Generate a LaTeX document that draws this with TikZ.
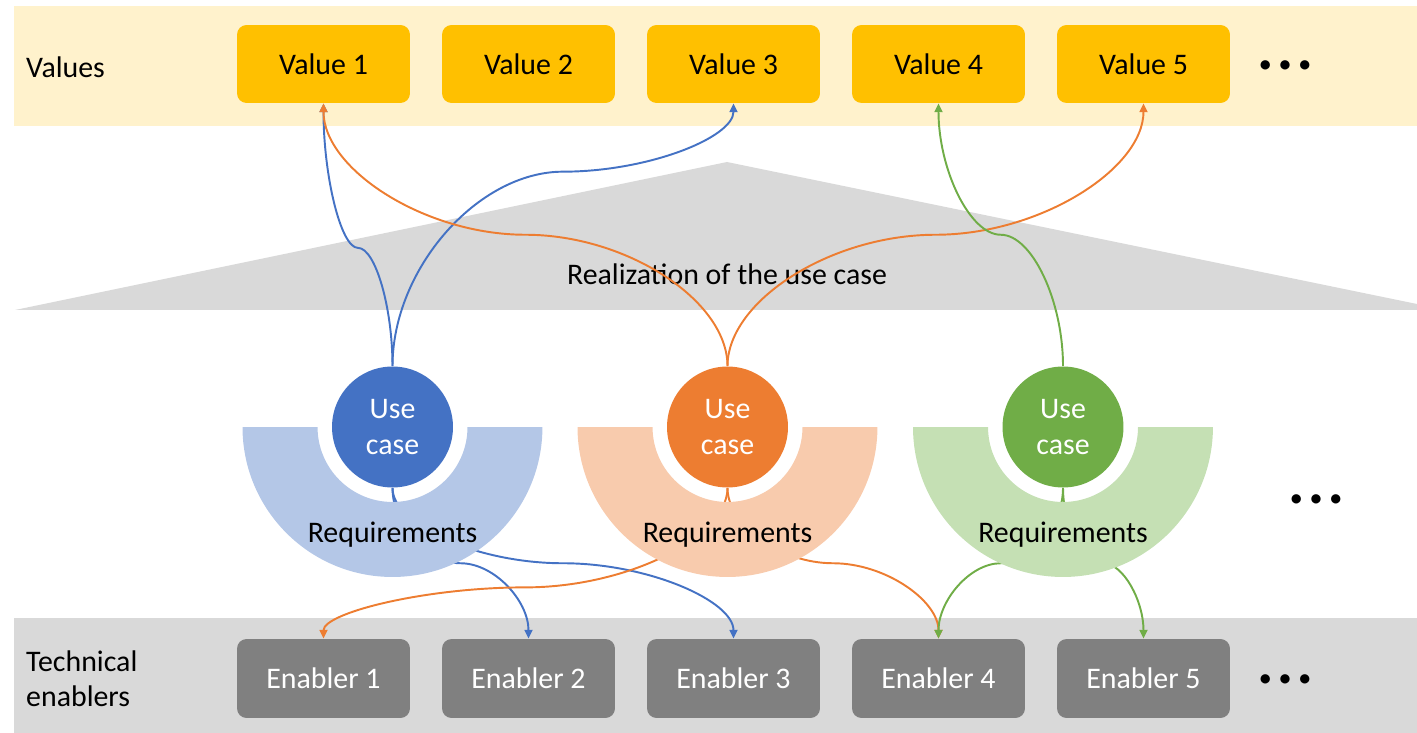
\documentclass[tikz,border=0pt]{standalone}
\usepackage{fontspec}
\setmainfont{Carlito}
\usetikzlibrary{arrows.meta, calc, positioning}

\definecolor{valband}{HTML}{FFF2CC}
\definecolor{valbox}{HTML}{FFC000}
\definecolor{greyband}{HTML}{D9D9D9}
\definecolor{enabbox}{HTML}{808080}
\definecolor{ucblue}{HTML}{4472C4}
\definecolor{ucorange}{HTML}{ED7D31}
\definecolor{ucgreen}{HTML}{70AD47}
\definecolor{reqblue}{HTML}{B4C7E7}
\definecolor{reqorange}{HTML}{F8CBAD}
\definecolor{reqgreen}{HTML}{C5E0B4}

\begin{document}
\begin{tikzpicture}[x=0.02cm, y=-0.02cm,
  font=\fontsize{17}{20}\selectfont,
  valuebox/.style={rectangle, fill=valbox, minimum width=3.46cm, minimum height=1.56cm, rounded corners=5.5pt},
  enabler/.style={rectangle, fill=enabbox, text=white, minimum width=3.46cm, minimum height=1.58cm, rounded corners=5.5pt},
  usecase/.style={circle, fill=#1, text=white, minimum size=2.42cm, inner sep=0pt, align=center},
  dots/.style={font=\fontsize{12.5}{15}\bfseries},
  link/.style={draw=#1, line width=1.1pt, -{Triangle[length=5pt, width=4.5pt]}},
  curv/.style={to path={let \p1=(\tikztostart), \p2=(\tikztotarget) in
    .. controls (\x1,{\y1+#1*0.5*((\y2)-(\y1))})
       and ({0.75*\x1+0.25*\x2},{\y1+#1*((\y2)-(\y1))})
    .. ({0.5*\x1+0.5*\x2},{\y1+#1*((\y2)-(\y1))})
    .. controls ({0.25*\x1+0.75*\x2},{\y1+#1*((\y2)-(\y1))})
       and (\x2,{0.5*(\y1+#1*((\y2)-(\y1)))+0.5*\y2})
    .. (\p2)}},
  curv/.default=0.5,
]
\useasboundingbox (0,0) rectangle (1417,733);

% bands and the realization triangle
\fill[valband] (14,6) rectangle (1417,126);
\fill[greyband] (14,618) rectangle (1417,733);
\fill[greyband] (15,310) -- (727,162) -- (1417,304) -- (1417,310) -- cycle;

\node[anchor=west] (values) at (20,67) {Values};
\node[anchor=west, align=left] (techen) at (20,679) {Technical\\enablers};
\node (realize) at (727,274) {Realization of the use case};

\foreach \i in {1,...,5} {
  \node[valuebox] (v\i) at ({118.5+205*\i},64) {Value \i};
  \node[enabler] (e\i) at ({118.5+205*\i},678.5) {Enabler \i};
}
\node[dots] (vdots) at (1285,66) {•\hspace{5pt}•\hspace{5pt}•};
\node[dots] (udots) at (1316,500) {•\hspace{5pt}•\hspace{5pt}•};
\node[dots] (edots) at (1285,680) {•\hspace{5pt}•\hspace{5pt}•};

% use cases
\node[usecase=ucblue] (uc1) at (392.5,427) {Use\\case};
\node[usecase=ucorange] (uc2) at (727.5,427) {Use\\case};
\node[usecase=ucgreen] (uc3) at (1063,427) {Use\\case};

% use case -> values
\draw[link=ucblue] (uc1.north) to[curv=0.45] (v1.south);
\draw[link=ucblue] (uc1.north) to[curv=0.74] (v3.south);
\draw[link=ucorange] (uc2.north) to[curv] (v1.south);
\draw[link=ucorange] (uc2.north) to[curv] (v5.south);
\draw[link=ucgreen] (uc3.north) to[curv] (v4.south);

% use case -> enablers
\draw[link=ucblue] (uc1.south) to[curv] (e2.north);
\draw[link=ucblue] (uc1.south) to[curv] (e3.north);
\draw[link=ucorange] (uc2.south) to[curv=0.66] (e1.north);
\draw[link=ucorange] (uc2.south) to[curv] (e4.north);
\draw[link=ucgreen] (uc3.south) to[curv] (e4.north);
\draw[link=ucgreen] (uc3.south) to[curv] (e5.north);

% requirement half rings
\foreach \i/\cx/\col in {1/392.5/blue, 2/727.5/orange, 3/1063/green} {
  \fill[req\col] (\cx-150,427) arc[start angle=180, end angle=360, radius=3cm]
    -- (\cx+75,427) arc[start angle=360, end angle=180, radius=1.5cm] -- cycle;
  \node (req\i) at (\cx,535) {Requirements};
}
\end{tikzpicture}
\end{document}
